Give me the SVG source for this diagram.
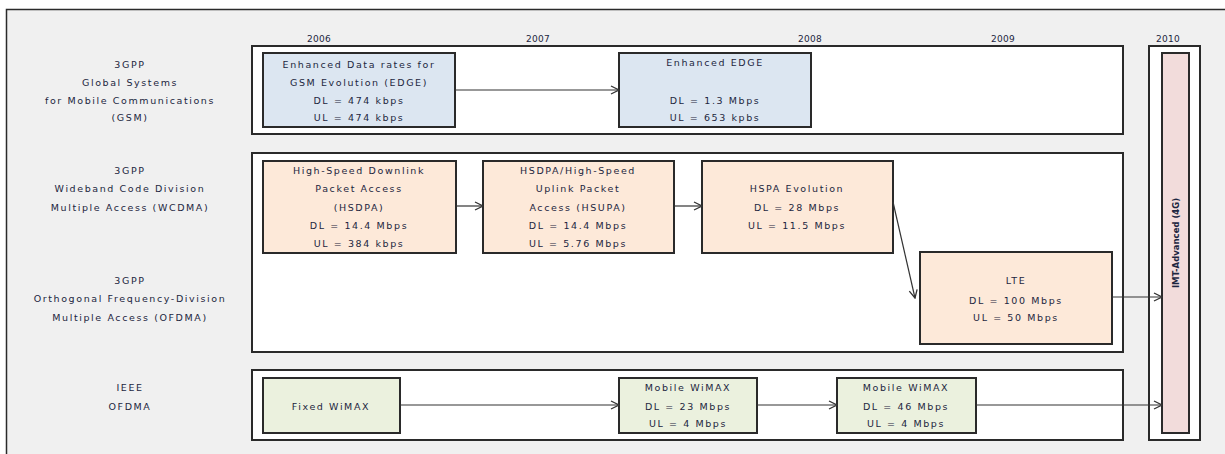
<svg xmlns="http://www.w3.org/2000/svg" width="1225" height="454" viewBox="0 0 1225 454">
<style>
text{font-family:"DejaVu Sans","Liberation Sans",sans-serif;font-size:9.5px;letter-spacing:1.6px;fill:#1c2640;text-anchor:middle}
.panel{fill:#ffffff;stroke:#2a2a2a;stroke-width:2}
.box{stroke:#2a2a2a;stroke-width:2}
.blue{fill:#dce6f1}.orange{fill:#fde9d9}.green{fill:#ebf1de}.pink{fill:#f2dcdb}
.conn{stroke:#333;stroke-width:1.2;fill:none;marker-end:url(#arr)}
.yr{font-size:9px;letter-spacing:0.3px}
</style>
<defs>
<marker id="arr" viewBox="0 0 10 10" refX="9" refY="5" markerWidth="10" markerHeight="10" markerUnits="userSpaceOnUse" orient="auto">
<path d="M1,1 L9,5 L1,9" fill="none" stroke="#333" stroke-width="1.3"/>
</marker>
</defs>
<rect x="0" y="0" width="1225" height="454" fill="#ffffff"/>
<rect x="6.5" y="9.5" width="1240" height="470" fill="#f0f0f0" stroke="#2a2a2a" stroke-width="1.5"/>
<g id="years">
<text class="yr" x="319" y="42">2006</text>
<text class="yr" x="538" y="42">2007</text>
<text class="yr" x="810" y="42">2008</text>
<text class="yr" x="1003" y="42">2009</text>
<text class="yr" x="1168" y="42">2010</text>
</g>
<g id="labels">
<text x="130" y="68">3GPP</text>
<text x="130" y="86">Global Systems</text>
<text x="130" y="104">for Mobile Communications</text>
<text x="130" y="121">(GSM)</text>
<text x="130" y="174">3GPP</text>
<text x="130" y="192">Wideband Code Division</text>
<text x="130" y="211">Multiple Access (WCDMA)</text>
<text x="130" y="284">3GPP</text>
<text x="130" y="302">Orthogonal Frequency-Division</text>
<text x="130" y="321">Multiple Access (OFDMA)</text>
<text x="130" y="391">IEEE</text>
<text x="130" y="410">OFDMA</text>
</g>
<g id="panel-gsm"><rect class="panel" x="252" y="46" width="871" height="88"/></g>
<g id="panel-wcdma"><rect class="panel" x="252" y="153" width="871" height="199"/></g>
<g id="panel-ieee"><rect class="panel" x="252" y="370" width="871" height="70"/></g>
<g id="imt-frame"><rect class="panel" x="1149" y="46" width="51" height="394"/></g>
<g id="node-edge">
<rect class="box blue" x="263" y="53" width="192" height="74"/>
<text x="359" y="68">Enhanced Data rates for</text>
<text x="359" y="86">GSM Evolution (EDGE)</text>
<text x="359" y="104">DL = 474 kbps</text>
<text x="359" y="121">UL = 474 kbps</text>
</g>
<g id="node-eedge">
<rect class="box blue" x="619" y="53" width="192" height="74"/>
<text x="715" y="66">Enhanced EDGE</text>
<text x="715" y="104">DL = 1.3 Mbps</text>
<text x="715" y="121">UL = 653 kpbs</text>
</g>
<g id="node-hsdpa">
<rect class="box orange" x="263" y="161" width="193" height="92"/>
<text x="359" y="174">High-Speed Downlink</text>
<text x="359" y="192">Packet Access</text>
<text x="359" y="211">(HSDPA)</text>
<text x="359" y="229">DL = 14.4 Mbps</text>
<text x="359" y="247">UL = 384 kbps</text>
</g>
<g id="node-hsupa">
<rect class="box orange" x="483" y="161" width="191" height="92"/>
<text x="578" y="174">HSDPA/High-Speed</text>
<text x="578" y="192">Uplink Packet</text>
<text x="578" y="211">Access (HSUPA)</text>
<text x="578" y="229">DL = 14.4 Mbps</text>
<text x="578" y="247">UL = 5.76 Mbps</text>
</g>
<g id="node-hspa">
<rect class="box orange" x="702" y="161" width="191" height="92"/>
<text x="797" y="192">HSPA Evolution</text>
<text x="797" y="211">DL = 28 Mbps</text>
<text x="797" y="229">UL = 11.5 Mbps</text>
</g>
<g id="node-lte">
<rect class="box orange" x="920" y="252" width="192" height="92"/>
<text x="1016" y="284">LTE</text>
<text x="1016" y="304">DL = 100 Mbps</text>
<text x="1016" y="321">UL = 50 Mbps</text>
</g>
<g id="node-fixed">
<rect class="box green" x="263" y="378" width="137" height="55"/>
<text x="331" y="410">Fixed WiMAX</text>
</g>
<g id="node-mobile1">
<rect class="box green" x="619" y="378" width="138" height="55"/>
<text x="688" y="391">Mobile WiMAX</text>
<text x="688" y="410">DL = 23 Mbps</text>
<text x="688" y="427">UL = 4 Mbps</text>
</g>
<g id="node-mobile2">
<rect class="box green" x="837" y="378" width="139" height="55"/>
<text x="906" y="391">Mobile WiMAX</text>
<text x="906" y="410">DL = 46 Mbps</text>
<text x="906" y="427">UL = 4 Mbps</text>
</g>
<g id="node-imt">
<rect class="box pink" x="1162" y="53" width="27" height="380"/>
<text x="0" y="0" transform="translate(1179,243) rotate(-90)" style="font-weight:bold;font-size:8.5px;letter-spacing:0px">IMT-Advanced (4G)</text>
</g>
<g id="connectors">
<line class="conn" x1="455" y1="90" x2="619" y2="90"/>
<line class="conn" x1="456" y1="206" x2="483" y2="206"/>
<line class="conn" x1="674" y1="206" x2="702" y2="206"/>
<line class="conn" x1="893" y1="202" x2="915" y2="298"/>
<line class="conn" x1="1112" y1="297" x2="1162" y2="297"/>
<line class="conn" x1="400" y1="405" x2="619" y2="405"/>
<line class="conn" x1="757" y1="405" x2="837" y2="405"/>
<line class="conn" x1="976" y1="405" x2="1162" y2="405"/>
</g>
</svg>
